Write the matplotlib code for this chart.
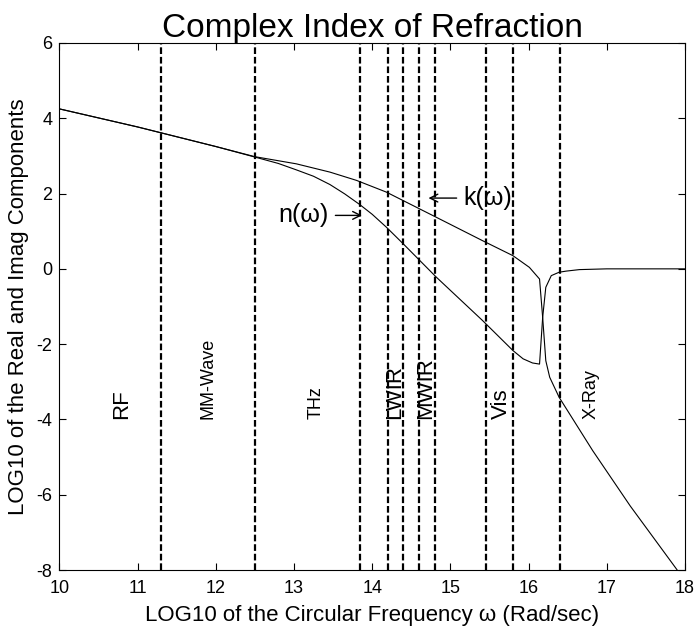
import matplotlib
matplotlib.use("Agg")
import matplotlib.pyplot as plt

plt.rcParams['font.family'] = ['Liberation Sans', 'DejaVu Sans']
plt.rcParams['axes.unicode_minus'] = False

# real part n (log10)
n_x = [10.0, 11.0, 12.0, 12.5, 12.8, 13.03, 13.25, 13.46, 13.65, 13.84, 14.0, 14.18, 14.39,
       14.82, 15.41, 15.8, 15.93, 16.05, 16.14, 16.18, 16.22, 16.29, 16.39, 16.48, 16.65,
       17.0, 18.0]
n_y = [4.25, 3.77, 3.25, 2.97, 2.80, 2.63, 2.46, 2.24, 1.99, 1.71, 1.45, 1.11, 0.68,
       -0.22, -1.37, -2.17, -2.39, -2.5, -2.53, -1.29, -0.49, -0.18, -0.09, -0.06, -0.02,
       0.0, 0.0]
# imaginary part k (log10)
k_x = [10.0, 11.0, 12.0, 12.5, 13.03, 13.46, 13.8, 14.18, 14.39, 14.82, 15.41, 15.8,
       16.01, 16.14, 16.18, 16.22, 16.27, 16.39, 16.82, 17.3, 17.9, 18.0]
k_y = [4.25, 3.77, 3.25, 2.98, 2.79, 2.57, 2.35, 2.04, 1.82, 1.37, 0.75, 0.35,
       0.04, -0.27, -1.29, -2.44, -2.88, -3.41, -4.83, -6.3, -8.0, -8.3]

band_edges = [11.3, 12.5, 13.84, 14.2, 14.4, 14.6, 14.8, 15.45, 15.8, 16.4]

band_names = ['RF', 'MM-Wave', 'THz', 'LWIR', 'MWIR', 'Vis', 'X-Ray']
band_pos = [10.8, 11.9, 13.29, 14.29, 14.69, 15.65, 16.8]
band_size = [16, 13, 13, 16, 16, 16, 13]

x_ticks = [10, 11, 12, 13, 14, 15, 16, 17, 18]
y_ticks = [-8, -6, -4, -2, 0, 2, 4, 6]

fig = plt.figure(figsize=(7.0, 6.33), dpi=100)
ax = fig.add_axes([0.0847, 0.0995, 0.8939, 0.8326])

ax.plot(n_x, n_y, color='black', lw=0.8)
ax.plot(k_x, k_y, color='black', lw=0.8)

for xe in band_edges:
    ax.axvline(xe, color='black', lw=1.6, ls=(0, (3.0, 1.3)))

for name, xp, fs in zip(band_names, band_pos, band_size):
    ax.text(xp, -4.0, name, rotation=90, ha='center', va='bottom', fontsize=fs)

ax.text(13.44, 1.42, 'n(ω)', ha='right', va='center', fontsize=18)
ax.annotate('', xy=(13.87, 1.42), xytext=(13.53, 1.42),
            arrowprops=dict(arrowstyle='->', lw=1.0, color='black',
                            mutation_scale=14, shrinkA=0, shrinkB=0))
ax.text(15.17, 1.88, 'k(ω)', ha='left', va='center', fontsize=18)
ax.annotate('', xy=(14.72, 1.88), xytext=(15.08, 1.88),
            arrowprops=dict(arrowstyle='->', lw=1.0, color='black',
                            mutation_scale=14, shrinkA=0, shrinkB=0))

ax.set_xlim(10, 18)
ax.set_ylim(-8, 6)
ax.set_xticks(x_ticks)
ax.set_yticks(y_ticks)
ax.tick_params(direction='in', top=True, right=True, labelsize=13, length=5, width=0.8)
ax.tick_params(axis='x', pad=7)
ax.tick_params(axis='y', pad=5)
for s in ax.spines.values():
    s.set_linewidth(0.8)

ax.set_title('Complex Index of Refraction', fontsize=24, pad=4)
ax.set_xlabel('LOG10 of the Circular Frequency ω (Rad/sec)', fontsize=16, labelpad=6)
ax.set_ylabel('LOG10 of the Real and Imag Components', fontsize=16, labelpad=5)

fig.savefig('out.png', dpi=100)
